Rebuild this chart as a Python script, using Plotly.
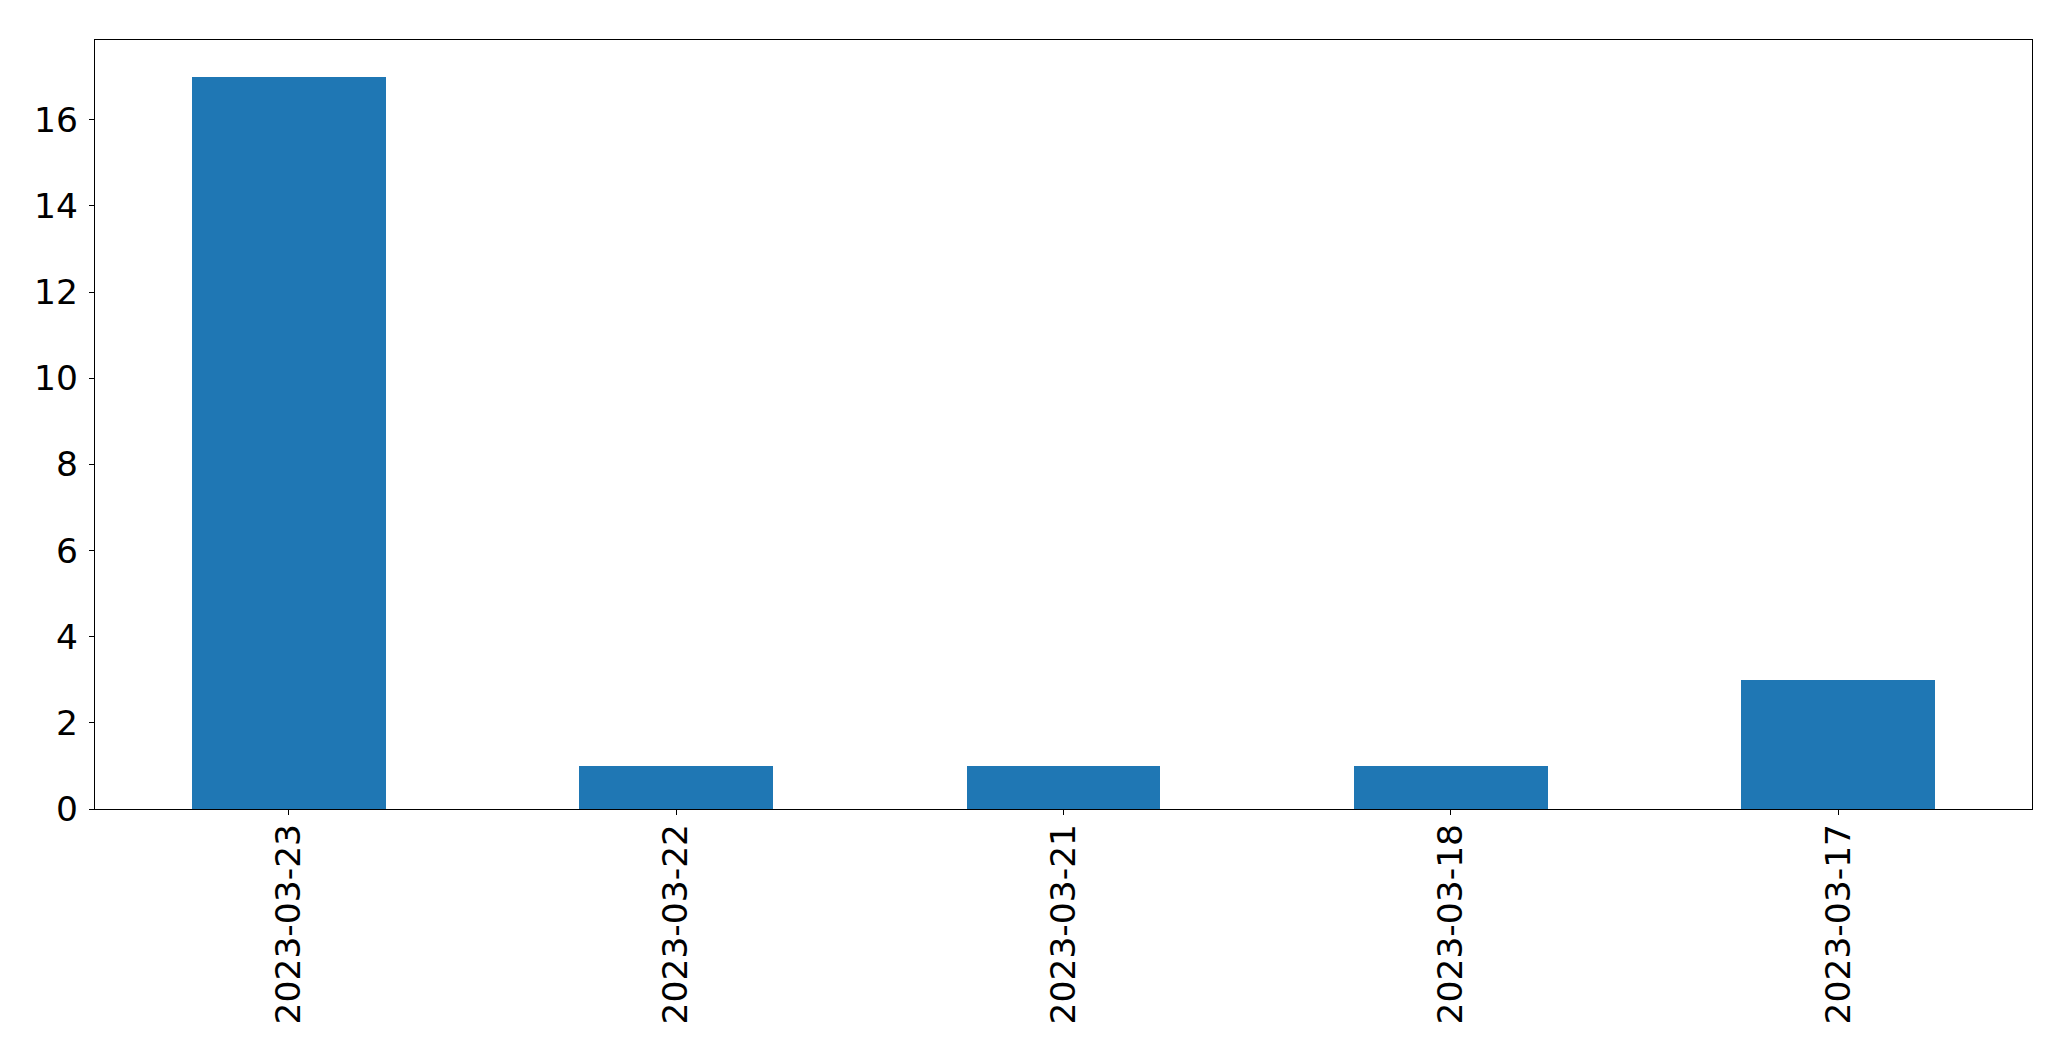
import plotly.graph_objects as go

categories = ["2023-03-23", "2023-03-22", "2023-03-21", "2023-03-18", "2023-03-17"]
values = [17, 1, 1, 1, 3]
y_ticks = [0, 2, 4, 6, 8, 10, 12, 14, 16]

fig = go.Figure(
    go.Bar(
        x=categories,
        y=values,
        width=0.5,
        marker=dict(color="#1f77b4", line=dict(width=0)),
    )
)

# page body has an 8px margin; figure sized to fit inside the window
W, H = 2055, 1045
fig.update_layout(
    width=W,
    height=H,
    autosize=False,
    paper_bgcolor="white",
    plot_bgcolor="white",
    margin=dict(l=86.5, r=31, t=31.5, b=244, pad=0),
    font=dict(family="DejaVu Sans", size=34.5, color="black"),
    showlegend=False,
    bargap=0,
)
fig.update_xaxes(
    type="category",
    range=[-0.5, 4.5],
    tickangle=-90,
    showline=True,
    linecolor="black",
    linewidth=1.3,
    mirror=True,
    ticks="outside",
    ticklen=5,
    tickwidth=1.3,
    tickcolor="black",
    showgrid=False,
    zeroline=False,
    ticklabelstandoff=-5,
)
fig.update_yaxes(
    range=[0, 17.85],
    tickvals=y_ticks,
    ticktext=[str(v) for v in y_ticks],
    showline=True,
    linecolor="black",
    linewidth=1.3,
    mirror=True,
    ticks="outside",
    ticklen=5,
    tickwidth=1.3,
    tickcolor="black",
    showgrid=False,
    zeroline=False,
    ticklabelstandoff=4,
)

fig.write_html("out.html")
